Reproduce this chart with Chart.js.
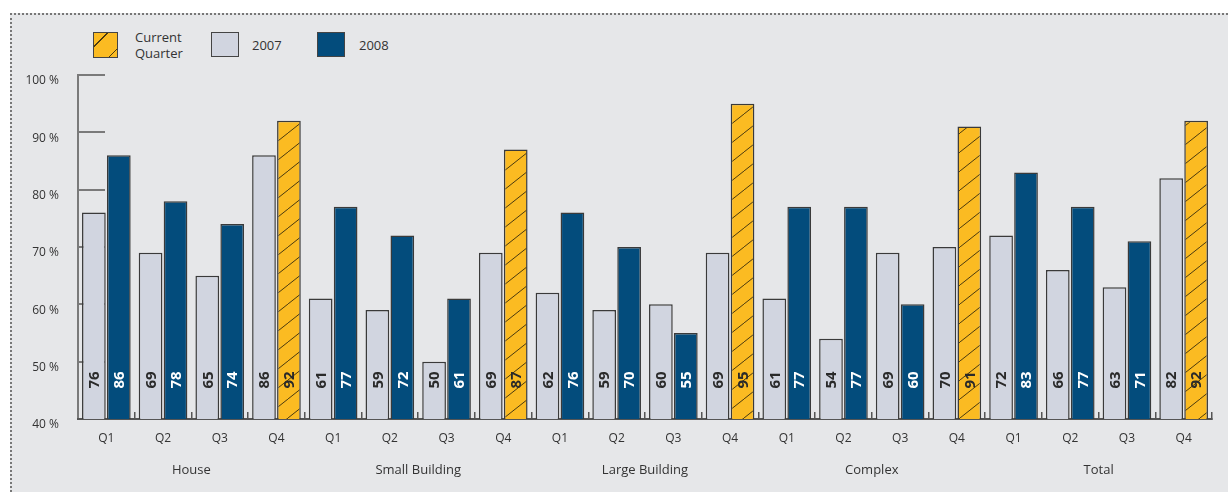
<!DOCTYPE html>
<html lang="en">
<head>
  <meta charset="UTF-8">
  <title>Quarterly results</title>
  <script src="https://cdn.jsdelivr.net/npm/chart.js"></script>
  <style>
    body { margin: 0; background: #fff; font-family: "Open Sans", sans-serif; }
    #wrap { position: relative; width: 1228px; height: 492px; overflow: hidden; }
    #panel {
      position: absolute; left: 10px; top: 13px; right: 0; bottom: 0;
      background: #e6e7e9;
      border-top: 2px dotted #777;
      border-left: 2px dotted #777;
    }
    #chart { position: absolute; left: 0; top: 0; }
    .legend { position: absolute; top: 30px; left: 0; font-size: 13px; color: #333; }
    .legend .box { position: absolute; border: 1px solid #444; box-sizing: border-box; }
    .legend .txt { position: absolute; line-height: 16px; white-space: nowrap; }
  </style>
</head>
<body>
  <div id="wrap">
    <div id="panel"></div>
    <div class="legend">
      <div class="box" style="left:93px;top:2px;width:25px;height:26px;background:repeating-linear-gradient(135deg,#fbbb22 0 9px,#4a3a10 9px 10px,#fbbb22 10px 18px);"></div>
      <div class="txt" style="left:135px;top:-1px;">Current<br>Quarter</div>
      <div class="box" style="left:211px;top:2px;width:28px;height:25px;background:#d1d5e0;"></div>
      <div class="txt" style="left:252px;top:7px;">2007</div>
      <div class="box" style="left:317px;top:2px;width:28px;height:25px;background:#034c7c;"></div>
      <div class="txt" style="left:359px;top:7px;">2008</div>
    </div>
    <canvas id="chart" width="1228" height="492"></canvas>
  </div>
  <script>
    const quarters = ["Q1", "Q2", "Q3", "Q4"];
    const groups = ["House", "Small Building", "Large Building", "Complex", "Total"];
    const currentQuarter = "Q4";
    const values2007 = [76, 69, 65, 86, 61, 59, 50, 69, 62, 59, 60, 69, 61, 54, 69, 70, 72, 66, 63, 82];
    const values2008 = [86, 78, 74, 92, 77, 72, 61, 87, 76, 70, 55, 95, 77, 77, 60, 91, 83, 77, 71, 92];

    const labels = groups.flatMap(() => quarters);
    const ctx = document.getElementById("chart").getContext("2d");

    // hatched yellow for the current quarter
    function hatch() {
      const c = document.createElement("canvas");
      c.width = 24; c.height = 19;
      const g = c.getContext("2d");
      g.fillStyle = "#fbbb22";
      g.fillRect(0, 0, 24, 19);
      g.strokeStyle = "#4a3a10";
      g.lineWidth = 1;
      g.beginPath();
      g.moveTo(-2, 19 + 19 / 12);
      g.lineTo(26, -19 / 12);
      g.stroke();
      return ctx.createPattern(c, "repeat");
    }
    const hatchFill = hatch();

    // value labels written upwards near the bottom of each bar
    const valueLabels = {
      id: "valueLabels",
      afterDatasetsDraw(chart) {
        const c = chart.ctx;
        const area = chart.chartArea;
        chart.data.datasets.forEach((ds, di) => {
          chart.getDatasetMeta(di).data.forEach((bar, i) => {
            const isCur = di === 1 && labels[i] === currentQuarter;
            c.save();
            c.translate(bar.x, area.bottom - 39);
            c.rotate(-Math.PI / 2);
            c.font = "bold 15px 'Open Sans', sans-serif";
            c.fillStyle = di === 1 && !isCur ? "#ffffff" : "#2a2a2a";
            c.textAlign = "center";
            c.textBaseline = "middle";
            c.fillText(ds.data[i], 0, 1);
            c.restore();
          });
        });
      }
    };

    new Chart(ctx, {
      type: "bar",
      data: {
        labels: labels,
        datasets: [
          {
            label: "2007",
            data: values2007,
            backgroundColor: "#d1d5e0",
            borderColor: "#3a3a3a",
            borderWidth: 1.5
          },
          {
            label: "2008",
            data: values2008,
            backgroundColor: labels.map(q => q === currentQuarter ? hatchFill : "#034c7c"),
            borderColor: "#3a3a3a",
            borderWidth: 1.5
          }
        ]
      },
      options: {
        responsive: false,
        animation: false,
        categoryPercentage: 0.88,
        barPercentage: 0.95,
        layout: { padding: { left: 24, right: 16, top: 75, bottom: 13 } },
        plugins: { legend: { display: false }, tooltip: { enabled: false } },
        scales: {
          y: {
            min: 40, max: 100,
            afterFit: s => { s.width = 54; },
            ticks: {
              stepSize: 10,
              padding: 46,
              labelOffset: 6,
              color: "#333",
              font: { family: "'Open Sans', sans-serif", size: 12 },
              callback: v => v + " %"
            },
            grid: { drawOnChartArea: false, drawTicks: true, tickLength: -27, color: "#7a7a7a", lineWidth: 2 },
            border: { display: true, color: "#7a7a7a", width: 2 }
          },
          x: {
            afterFit: s => { s.height = 30; },
            ticks: {
              padding: 19,
              color: "#333",
              font: { family: "'Open Sans', sans-serif", size: 12 }
            },
            grid: { drawOnChartArea: false, drawTicks: true, tickLength: -7, color: "#555", lineWidth: 1.5, offset: true },
            border: { display: true, color: "#555", width: 2 }
          },
          x2: {
            type: "category",
            position: "bottom",
            labels: groups,
            offset: true,
            afterFit: s => { s.height = 30; },
            ticks: {
              padding: 13,
              color: "#333",
              font: { family: "'Open Sans', sans-serif", size: 13 }
            },
            grid: { display: false, drawTicks: false },
            border: { display: false }
          }
        }
      },
      plugins: [valueLabels]
    });
  </script>
</body>
</html>
